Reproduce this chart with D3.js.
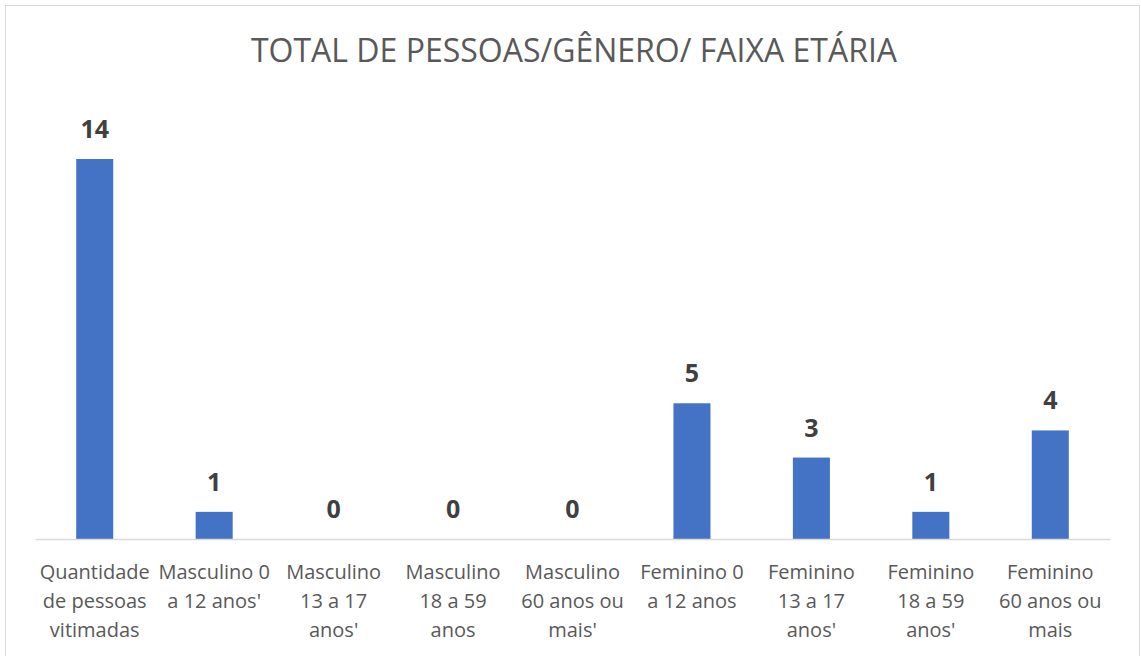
<!DOCTYPE html>
<html><head><meta charset="utf-8">
<script src="https://cdn.jsdelivr.net/npm/d3@7"></script>
<style>body{margin:0;background:#fff}svg{display:block}</style>
</head><body>
<svg id="c" width="1141" height="656"></svg>
<script>
const categories = ["Quantidade de pessoas vitimadas","Masculino 0 a 12 anos'","Masculino 13 a 17 anos'","Masculino 18 a 59 anos","Masculino 60 anos ou mais'","Feminino 0 a 12 anos","Feminino 13 a 17 anos'","Feminino 18 a 59 anos'","Feminino 60 anos ou mais"];
const labelLines = [["Quantidade","de pessoas","vitimadas"],["Masculino 0","a 12 anos'"],["Masculino","13 a 17","anos'"],["Masculino","18 a 59","anos"],["Masculino","60 anos ou","mais'"],["Feminino 0","a 12 anos"],["Feminino","13 a 17","anos'"],["Feminino","18 a 59","anos'"],["Feminino","60 anos ou","mais"]];
const values = [14,1,0,0,0,5,3,1,4];
const title = "TOTAL DE PESSOAS/GÊNERO/ FAIXA ETÁRIA";

const svg = d3.select("#c");
const font = "'Open Sans', sans-serif";
svg.append("rect").attr("x",5.5).attr("y",5.5).attr("width",1134).attr("height",660)
  .attr("fill","#fff").attr("stroke","#d9d9d9").attr("stroke-width",1);

const x = d3.scaleBand().domain(categories).range([35,1110]).paddingInner(0.69).paddingOuter(0.345);
const y = d3.scaleLinear().domain([0,14]).range([539,159]);

svg.append("text").attr("x",574).attr("y",62).attr("text-anchor","middle")
  .attr("font-family",font).attr("font-size",32).attr("fill","#595959").text(title);

svg.selectAll("rect.bar").data(values).join("rect").attr("class","bar")
  .attr("x",(d,i)=>x(categories[i])).attr("width",x.bandwidth())
  .attr("y",d=>y(d)).attr("height",d=>y(0)-y(d)).attr("fill","#4472c4");

svg.selectAll("text.val").data(values).join("text").attr("class","val")
  .attr("x",(d,i)=>x(categories[i])+x.bandwidth()/2).attr("y",d=>y(d)-21)
  .attr("text-anchor","middle").attr("font-family",font).attr("font-weight","bold")
  .attr("font-size",25).attr("fill","#404040").text(d=>d);

const ax = svg.append("g").attr("transform","translate(0,539)")
  .call(d3.axisBottom(x).tickSize(0).tickFormat(""));
ax.select(".domain").attr("stroke","#d9d9d9").attr("stroke-width",1.5);
ax.selectAll(".tick").each(function(d,i){
  const t = d3.select(this).append("text").attr("fill","#595959").attr("font-family",font)
    .attr("font-size",20).attr("text-anchor","middle");
  labelLines[i].forEach((l,j)=>t.append("tspan").attr("x",0).attr("y",40+j*29).text(l));
});
</script>
</body></html>
